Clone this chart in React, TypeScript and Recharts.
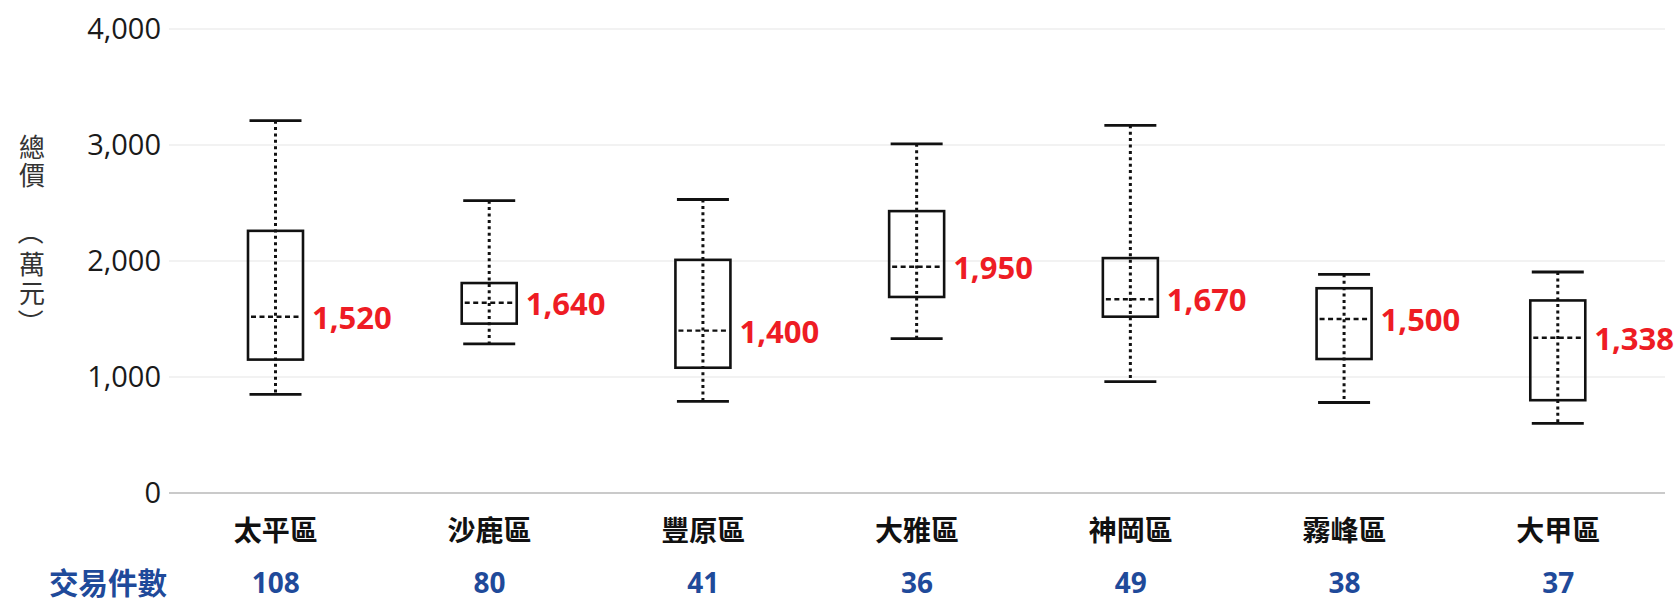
import React from 'react';
import { ComposedChart, Bar, XAxis, YAxis, CartesianGrid } from 'recharts';

const categories = ['太平區', '沙鹿區', '豐原區', '大雅區', '神岡區', '霧峰區', '大甲區'];
const counts = [108, 80, 41, 36, 49, 38, 37];
const mins = [850, 1285, 790, 1330, 960, 780, 600];
const q1s = [1150, 1460, 1080, 1690, 1520, 1155, 800];
const medians = [1520, 1640, 1400, 1950, 1670, 1500, 1338];
const q3s = [2260, 1810, 2010, 2430, 2025, 1765, 1660];
const maxs = [3210, 2520, 2530, 3010, 3170, 1885, 1905];
const yTicks = [0, 1000, 2000, 3000, 4000];
const countTitle = '交易件數';
const yTitleChars = ['總', '價', '（', '萬', '元', '）'];

const data = categories.map((name, i) => ({
  name,
  count: counts[i],
  min: mins[i],
  q1: q1s[i],
  median: medians[i],
  q3: q3s[i],
  max: maxs[i],
  range: [mins[i], maxs[i]],
}));

const LATIN = "'Open Sans', 'Noto Sans CJK TC', sans-serif";
const CJK = "'Noto Sans CJK TC', 'Open Sans', sans-serif";
const RED = '#ee1c24';
const BLUE = '#1f4a9a';

const BoxShape = (props: any) => {
  const { x, y, width, height, payload } = props;
  if (!payload) return null;
  const top = Math.min(y, y + height);
  const bottom = Math.max(y, y + height);
  const span = payload.max - payload.min;
  const py = (v: number) => bottom - ((v - payload.min) / span) * (bottom - top);
  const cx = x + width / 2;
  const yq1 = py(payload.q1);
  const yq3 = py(payload.q3);
  const ym = py(payload.median);
  return (
    <g>
      <line x1={cx} x2={cx} y1={top} y2={bottom} stroke="#111" strokeWidth={3} strokeDasharray="3 3.4" />
      <line x1={x + 1.5} x2={x + width - 1.5} y1={top} y2={top} stroke="#111" strokeWidth={2.8} />
      <line x1={x + 1.5} x2={x + width - 1.5} y1={bottom} y2={bottom} stroke="#111" strokeWidth={2.8} />
      <rect x={x} y={yq3} width={width} height={yq1 - yq3} fill="none" stroke="#111" strokeWidth={2.6} />
      <line x1={x + 3} x2={x + width - 3} y1={ym} y2={ym} stroke="#111" strokeWidth={2.4} strokeDasharray="5 3.5" />
      <text
        x={x + width + 9}
        y={ym}
        dominantBaseline="central"
        fill={RED}
        fontSize={31}
        fontWeight={700}
        fontFamily={LATIN}
      >
        {payload.median.toLocaleString('en-US')}
      </text>
    </g>
  );
};

const CatTick = (props: any) => {
  const { x, y, payload, index } = props;
  const d = data[index];
  return (
    <g>
      <text x={x} y={y + 27.5} textAnchor="middle" dominantBaseline="central" fontSize={28} fontWeight={700} fill="#111" fontFamily={CJK}>
        {payload.value}
      </text>
      <text x={x} y={y + 80.5} textAnchor="middle" dominantBaseline="central" fontSize={28} fontWeight={700} fill={BLUE} fontFamily={LATIN}>
        {d ? d.count : ''}
      </text>
      {index === 0 ? (
        <text x={167} y={y + 80} textAnchor="end" dominantBaseline="central" fontSize={29.5} fontWeight={700} fill={BLUE} fontFamily={CJK}>
          {countTitle}
        </text>
      ) : null}
    </g>
  );
};

const titleY = [145, 173, 232, 262, 291, 322];

const YTitle = () => (
  <g>
    {yTitleChars.map((c, i) => {
      const isParen = c === '（' || c === '）';
      return (
        <text
          key={i}
          x={32}
          y={titleY[i]}
          textAnchor="middle"
          dominantBaseline="central"
          fontSize={26}
          fill="#333"
          fontFamily={CJK}
          transform={isParen ? `rotate(90 32 ${titleY[i]})` : undefined}
        >
          {c}
        </text>
      );
    })}
  </g>
);

export default function App() {
  return (
    <div style={{ position: 'absolute', left: 0, top: 0, width: 1678, height: 601, background: '#fff' }}>
      <ComposedChart
        width={1678}
        height={601}
        data={data}
        margin={{ top: 29, right: 13, bottom: 0, left: 0 }}
        style={{ overflow: 'visible' }}
      >
        <CartesianGrid vertical={false} stroke="#e6e6e6" strokeWidth={1.2} />
        <XAxis
          dataKey="name"
          height={108}
          interval={0}
          tickLine={false}
          axisLine={{ stroke: '#bcbcbc', strokeWidth: 1.6 }}
          tick={<CatTick />}
        />
        <YAxis
          width={169}
          domain={[0, 4000]}
          ticks={yTicks}
          interval={0}
          tickLine={false}
          axisLine={false}
          tick={{ fontSize: 29, fill: '#1a1a1a', fontFamily: LATIN }}
          tickFormatter={(v: number) => v.toLocaleString('en-US')}
          label={{ content: () => <YTitle /> }}
        />
        <Bar dataKey="range" barSize={55} isAnimationActive={false} shape={(p: any) => <BoxShape {...p} />} />
      </ComposedChart>
    </div>
  );
}
